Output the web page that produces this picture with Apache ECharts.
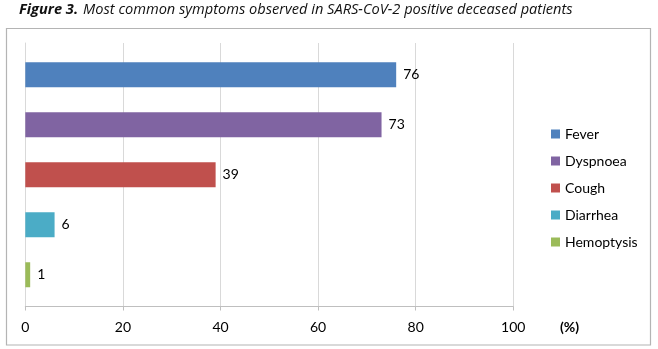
<!DOCTYPE html>
<html>
<head>
<meta charset="utf-8">
<script src="https://cdn.jsdelivr.net/npm/echarts@6/dist/echarts.min.js"></script>
<style>
  html, body { margin: 0; padding: 0; background: #ffffff; }
  #chart { width: 658px; height: 349px; }
</style>
</head>
<body>
<div id="chart"></div>
<script>
// Symptom frequencies (%) among deceased SARS-CoV-2 positive patients
const symptoms = ['Fever', 'Dyspnoea', 'Cough', 'Diarrhea', 'Hemoptysis'];
const percentages = [76, 73, 39, 6, 1];
const colors = ['#4f81bd', '#8064a2', '#c0504d', '#4bacc6', '#9bbb59'];
const xTicks = { min: 0, max: 100, interval: 20 };

const chart = echarts.init(document.getElementById('chart'), null, { renderer: 'canvas' });

const series = symptoms.map((name, i) => ({
  name: name,
  type: 'bar',
  data: [percentages[i]],
  barWidth: 25,
  barGap: '100%',
  itemStyle: { color: colors[i] },
  label: {
    show: true,
    position: 'right',
    distance: 7,
    color: '#000000',
    fontFamily: 'Lato',
    fontSize: 14
  },
  emphasis: { disabled: true }
}));

chart.setOption({
  animation: false,
  title: {
    left: 14,
    top: -4,
    text: '{b|Figure 3.} {i|Most common symptoms observed in SARS-CoV-2 positive deceased patients}',
    textStyle: {
      rich: {
        b: { fontFamily: 'Open Sans', fontStyle: 'italic', fontWeight: 'bold', fontSize: 14.6, color: '#111111' },
        i: { fontFamily: 'Open Sans', fontStyle: 'italic', fontWeight: 'normal', fontSize: 14.6, color: '#111111' }
      }
    }
  },
  graphic: [
    {
      type: 'rect',
      shape: { x: 6.5, y: 28.5, width: 644, height: 316.5 },
      style: { fill: 'none', stroke: '#b4b4b4', lineWidth: 1.2 },
      silent: true,
      z: -1
    },
    {
      type: 'text',
      left: 560,
      top: 320,
      style: { text: '(%)', font: 'bold 14px Lato', fill: '#000000' },
      silent: true
    }
  ],
  legend: {
    orient: 'vertical',
    left: 546,
    top: 121,
    icon: 'rect',
    itemWidth: 9,
    itemHeight: 9,
    itemGap: 11,
    data: symptoms,
    selectedMode: false,
    textStyle: { fontFamily: 'Lato', fontSize: 14, color: '#000000', lineHeight: 16 }
  },
  grid: { left: 25.3, right: 144.7, top: 43, bottom: 42.5, containLabel: false },
  xAxis: {
    type: 'value',
    min: xTicks.min,
    max: xTicks.max,
    interval: xTicks.interval,
    axisLine: { show: true, lineStyle: { color: '#bfbfbf', width: 1 } },
    axisTick: { show: true, length: 4, lineStyle: { color: '#bfbfbf' } },
    splitLine: { show: true, lineStyle: { color: '#d9d9d9', width: 1 } },
    axisLabel: { margin: 14, fontFamily: 'Lato', fontSize: 14, color: '#000000' }
  },
  yAxis: {
    type: 'category',
    data: [''],
    axisLine: { show: true, lineStyle: { color: '#d9d9d9', width: 1 } },
    axisTick: { show: false },
    axisLabel: { show: false }
  },
  series: series
});
</script>
</body>
</html>
